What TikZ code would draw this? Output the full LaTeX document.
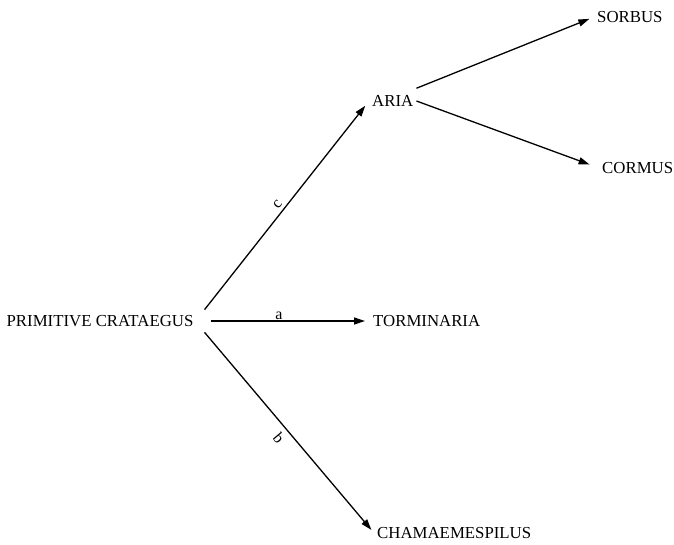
\documentclass[tikz,border=0pt]{standalone}
\usepackage{fontspec}
\setmainfont{Liberation Serif}
\usepackage{tikz}
\usetikzlibrary{positioning, arrows.meta}

\begin{document}
\begin{tikzpicture}[x=1pt, y=-1pt,
        taxon/.style={inner xsep=3pt, inner ysep=3pt, anchor=west, font=\fontsize{16.8}{18}\selectfont},
        branch/.style={line width=1.3pt, -{Triangle[length=11pt, width=7pt]}},
        letter/.style={font=\fontsize{16}{18}\selectfont, inner sep=3pt}]
        \useasboundingbox (0,0) rectangle (674,544);

        \node[taxon, inner xsep=11pt, inner ysep=5.5pt, anchor=center] (root) at (100,321) {PRIMITIVE CRATAEGUS};
        \node[taxon, inner ysep=7pt] (aria) at (369,101) {ARIA};
        \node[taxon] (torm) at (370,321) {TORMINARIA};
        \node[taxon] (cham) at (374,533) {CHAMAEMESPILUS};
        \node[taxon] (sorbus) at (594,17) {SORBUS};
        \node[taxon] (cormus) at (599,168) {CORMUS};

        % first split
        \draw[branch, shorten >=6pt] (root.north east) -- node[letter, pos=0.48, above, sloped] (c) {c} (aria.west);
        \draw[branch, shorten <=6pt, shorten >=5pt] (root.east) -- node[letter, pos=0.45, above, inner sep=1pt] (a) {a} (torm.west);
        \draw[branch, shorten >=4pt] (root.south east) -- node[letter, pos=0.49, below, sloped, inner sep=5pt] (b) {b} (cham.west);

        % aria splits again
        \draw[branch, shorten >=5pt] (aria.north east) -- (sorbus.west);
        \draw[branch, shorten >=10pt] (aria.east) -- (cormus.west);
    \end{tikzpicture}
\end{document}
